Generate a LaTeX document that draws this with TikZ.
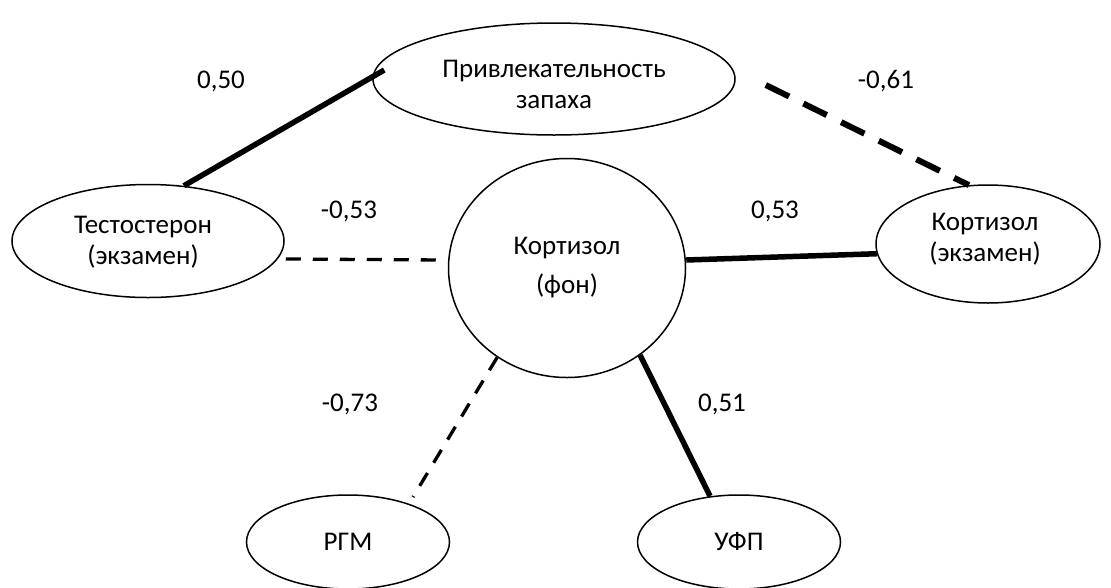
\documentclass[tikz,border=0pt]{standalone}
\usepackage{fontspec}
\setmainfont{Carlito}
\usetikzlibrary{shapes.geometric}
\begin{document}
\begin{tikzpicture}[x=1pt,y=-1pt,
  every node/.style={font=\fontsize{27}{31}\selectfont},
  oval/.style={draw,ellipse,line width=1.5pt,inner sep=0pt,align=center},
  txt/.style={inner sep=0pt,align=center},
  solidthick/.style={line width=5.5pt},
  dashthick/.style={line width=6pt,dash pattern=on 26pt off 16pt},
  dashthin/.style={line width=3.3pt,dash pattern=on 15pt off 12pt},
  lbl/.style={inner sep=0pt}]
\useasboundingbox (0,0) rectangle (1111,587);
\begin{scope}
\clip (0,0) rectangle (1111,587);
\node[oval,minimum width=362,minimum height=112] (top) at (554,79) {};
\node[txt] (toptxt) at (554,84) {Привлекательность\\запаха};
\node[oval,minimum width=272,minimum height=113] (test) at (148,241) {};
\node[txt] (testtxt) at (143,242) {Тестостерон\\(экзамен)};
\node[oval,minimum width=237,minimum height=219] (cf) at (567,268) {Кортизол\\[8pt](фон)};
\node[oval,minimum width=224,minimum height=118] (ce) at (988,244) {};
\node[txt] (cetxt) at (985,239) {Кортизол\\(экзамен)};
\node[oval,minimum width=203,minimum height=94] (rgm) at (348,542) {РГМ};
\node[oval,minimum width=203,minimum height=94] (ufp) at (739,542) {УФП};
\end{scope}

\draw[solidthick] (test.57) -- ([shift={(12,-9)}]top.west);
\draw[dashthick] ([shift={(30,6)}]top.east) -- (ce.108);
\draw[dashthin] ([shift={(1,18)}]test.east) -- ([shift={(-4,-8)}]cf.west);
\draw[solidthick] ([shift={(0,-8)}]cf.east) -- (ce.185);
\draw[dashthin] (cf.232) -- ([shift={(65,-45)}]rgm.center);
\draw[solidthick] (cf.310) -- ([shift={(-29,-46)}]ufp.center);

\node[lbl] (l1) at (221,81) {0,50};
\node[lbl] (l2) at (886,81) {-0,61};
\node[lbl] (l3) at (349,211) {-0,53};
\node[lbl] (l4) at (775,211) {0,53};
\node[lbl] (l5) at (350,404) {-0,73};
\node[lbl] (l6) at (722,404) {0,51};
\end{tikzpicture}
\end{document}
